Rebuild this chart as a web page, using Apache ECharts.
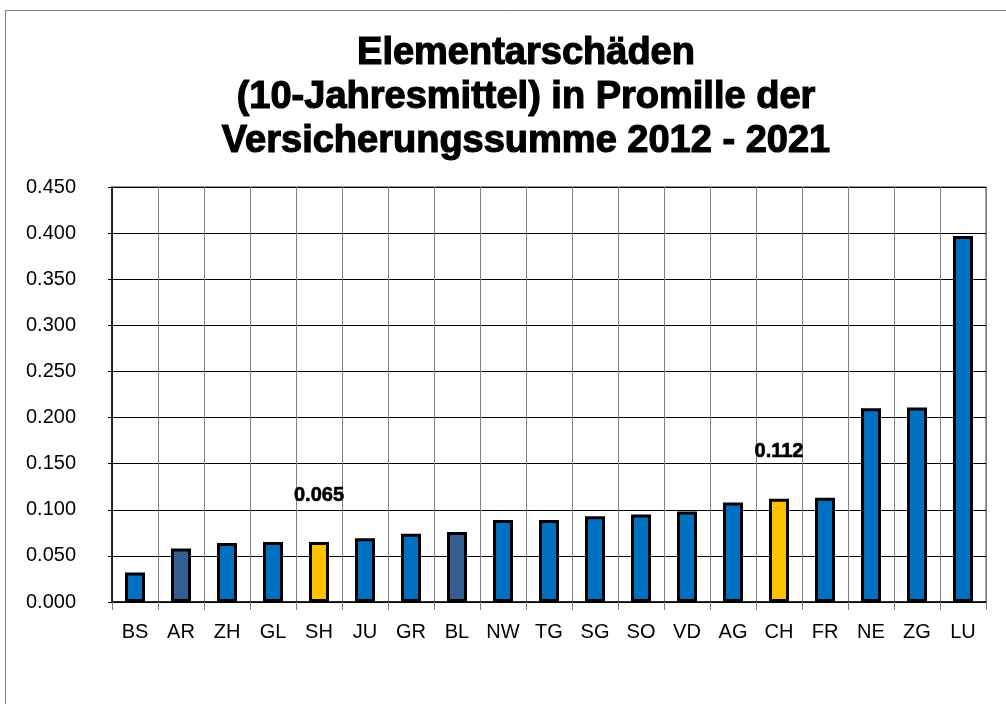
<!DOCTYPE html>
<html><head><meta charset="utf-8">
<script src="https://cdn.jsdelivr.net/npm/echarts@6/dist/echarts.min.js"></script>
<style>html,body{margin:0;padding:0;background:#fff}#c{width:1006px;height:704px}</style>
</head><body><div id="c"></div>
<script>
const categories = ['BS','AR','ZH','GL','SH','JU','GR','BL','NW','TG','SG','SO','VD','AG','CH','FR','NE','ZG','LU'];
const values = [0.032,0.058,0.064,0.065,0.065,0.069,0.074,0.076,0.089,0.089,0.093,0.095,0.098,0.108,0.112,0.113,0.210,0.211,0.397];
const colorGroup = ['b','d','b','b','y','b','b','d','b','b','b','b','b','b','y','b','b','b','b'];
const labelled = ['SH','CH'];
const titleLines = ['Elementarschäden', '(10-Jahresmittel) in Promille der', 'Versicherungssumme 2012 - 2021'];

const palette = {b:'#0070C0', d:'#365F91', y:'#FFC000'};
const font = 'Liberation Sans, Arial, sans-serif';
const chart = echarts.init(document.getElementById('c'), null, {renderer:'canvas'});
chart.setOption({
  animation:false,
  backgroundColor:'#fff',
  graphic:[{type:'rect', left:3, top:8, shape:{width:1100, height:800}, style:{fill:'none', stroke:'#808080', lineWidth:1}, silent:true}],
  title:{text:titleLines.join('\n'), left:521, top:27, textAlign:'center',
    textStyle:{fontFamily:font, fontWeight:'bold', fontSize:38, lineHeight:44, color:'#000',
      textBorderColor:'#000', textBorderWidth:1.2}},
  grid:{left:112, right:20, top:187, bottom:102, show:true, borderColor:'#808080', borderWidth:1.5},
  xAxis:{type:'category', data:categories, boundaryGap:true,
    axisLine:{lineStyle:{color:'#000', width:1.5}},
    axisTick:{show:true, length:8, lineStyle:{color:'#808080'}},
    splitLine:{show:true, lineStyle:{color:'#808080', width:1}},
    axisLabel:{fontFamily:font, fontSize:20, color:'#000', margin:20}},
  yAxis:{type:'value', min:0, max:0.45, interval:0.05,
    axisLine:{show:true, lineStyle:{color:'#000', width:1.5}},
    axisTick:{show:true, length:4, lineStyle:{color:'#000'}},
    splitLine:{show:true, lineStyle:{color:'#000', width:1}},
    axisLabel:{fontFamily:font, fontSize:20, color:'#000', margin:36,
      formatter:v=>v.toFixed(3)}},
  series:[{type:'bar', barWidth:20,
    data:values.map((v,i)=>({value:v,
      itemStyle:{color:palette[colorGroup[i]], borderColor:'#000', borderWidth:3},
      label:{show:labelled.includes(categories[i]), position:'top', distance:37,
        formatter:p=>p.value.toFixed(3), fontFamily:font, fontWeight:'bold', fontSize:20, color:'#000',
        textBorderColor:'#000', textBorderWidth:0.6}}))}]
});
</script></body></html>
